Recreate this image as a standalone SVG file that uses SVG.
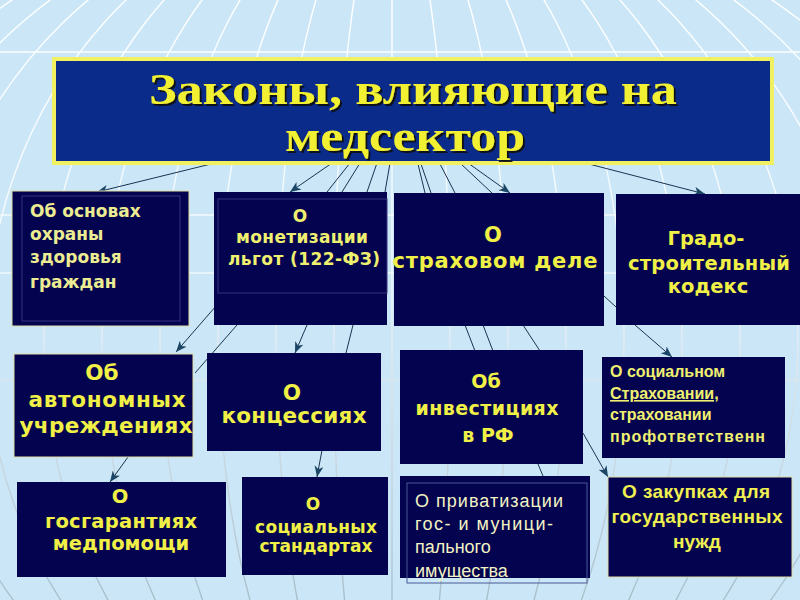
<svg xmlns="http://www.w3.org/2000/svg" width="800" height="600" viewBox="0 0 800 600">
<defs>
<linearGradient id="gridGrad" gradientUnits="userSpaceOnUse" x1="0" y1="0" x2="0" y2="600">
<stop offset="0" stop-color="#ffffff"/>
<stop offset="0.45" stop-color="#f2f8fc"/>
<stop offset="1" stop-color="#a9bfcc"/>
</linearGradient>
<marker id="arr" markerUnits="userSpaceOnUse" markerWidth="12" markerHeight="10" refX="11" refY="4.5" orient="auto">
<path d="M0,0 L11,4.5 L0,9 L3,4.5 z" fill="#1c4666"/>
</marker>
<filter id="shadow" x="-5%" y="-20%" width="110%" height="140%">
<feDropShadow dx="2" dy="2" stdDeviation="0.6" flood-color="#111111" flood-opacity="0.9"/>
</filter>
</defs>
<style>
.grid{fill:none;stroke:url(#gridGrad);stroke-width:1.4}
.box{fill:#03034f}
.inner{fill:none;stroke:#34347e;stroke-width:1}
.edge{stroke:#dedea6;stroke-width:1}
.conn line{stroke:#1a3352;stroke-width:1}
.t{font-family:"DejaVu Sans",Verdana,sans-serif;font-weight:bold;fill:#f0f046}
.ta{font-family:"Liberation Sans",Arial,sans-serif;font-weight:bold;fill:#f0f070}
.tk{font-family:"Liberation Sans",Arial,sans-serif;fill:#f2f2c4}
.title{font-family:"Liberation Serif","Times New Roman",serif;font-weight:bold;fill:#f2f032;font-size:44px}
</style>
<rect x="0" y="0" width="800" height="600" fill="#cbe7f7"/>
<g id="background-grid">
<line class="grid" x1="392" y1="0" x2="392" y2="600"/>
<ellipse class="grid" cx="392" cy="340" rx="58" ry="450"/>
<ellipse class="grid" cx="392" cy="340" rx="116" ry="450"/>
<ellipse class="grid" cx="392" cy="340" rx="174" ry="450"/>
<ellipse class="grid" cx="392" cy="340" rx="232" ry="450"/>
<ellipse class="grid" cx="392" cy="340" rx="290" ry="450"/>
<ellipse class="grid" cx="392" cy="340" rx="348" ry="450"/>
<ellipse class="grid" cx="392" cy="340" rx="406" ry="450"/>
<ellipse class="grid" cx="392" cy="340" rx="464" ry="450"/>
<ellipse class="grid" cx="392" cy="340" rx="522" ry="450"/>
<ellipse class="grid" cx="392" cy="340" rx="580" ry="450"/>
<ellipse class="grid" cx="392" cy="340" rx="638" ry="450"/>
<line class="grid" x1="0" y1="52" x2="800" y2="52"/>
<line class="grid" x1="0" y1="215" x2="800" y2="215"/>
<line class="grid" x1="0" y1="273" x2="800" y2="273"/>
<line class="grid" x1="0" y1="380" x2="800" y2="380"/>
</g>
<g id="connectors" class="conn">
<line x1="215" y1="163" x2="97" y2="192" marker-end="url(#arr)"/>
<line x1="332" y1="163" x2="290" y2="192" marker-end="url(#arr)"/>
<line x1="350" y1="163" x2="327" y2="192"/>
<line x1="360" y1="163" x2="342" y2="192"/>
<line x1="377" y1="163" x2="367" y2="192"/>
<line x1="390" y1="163" x2="385" y2="192"/>
<line x1="418" y1="164" x2="425" y2="193"/>
<line x1="421" y1="164" x2="431" y2="193"/>
<line x1="440" y1="164" x2="455" y2="193"/>
<line x1="460" y1="163" x2="492" y2="193"/>
<line x1="468" y1="163" x2="510" y2="193" marker-end="url(#arr)"/>
<line x1="585" y1="163" x2="705" y2="194" marker-end="url(#arr)"/>
<line x1="216" y1="306" x2="176" y2="352" marker-end="url(#arr)"/>
<line x1="237" y1="325" x2="195" y2="373"/>
<line x1="307" y1="325" x2="295" y2="353" marker-end="url(#arr)"/>
<line x1="353" y1="325" x2="346" y2="353"/>
<line x1="465" y1="325" x2="475" y2="351"/>
<line x1="483" y1="325" x2="493" y2="351"/>
<line x1="523" y1="325" x2="540" y2="351"/>
<line x1="604" y1="296" x2="616" y2="307"/>
<line x1="635" y1="325" x2="672" y2="357" marker-end="url(#arr)"/>
<line x1="128" y1="457" x2="110" y2="482" marker-end="url(#arr)"/>
<line x1="322" y1="450" x2="317" y2="477" marker-end="url(#arr)"/>
<line x1="538" y1="464" x2="543" y2="476"/>
<line x1="583" y1="433" x2="608" y2="477" marker-end="url(#arr)"/>
</g>
<g id="title">
<rect x="54" y="59" width="718" height="104" fill="#0b2b8b" stroke="#f0f060" stroke-width="4"/>
<text class="title" x="413" y="104" text-anchor="middle" textLength="528" lengthAdjust="spacingAndGlyphs" filter="url(#shadow)">Законы, влияющие на</text>
<text class="title" x="405" y="151" text-anchor="middle" textLength="240" lengthAdjust="spacingAndGlyphs" filter="url(#shadow)">медсектор</text>
</g>
<g id="node-osnovy">
<rect class="box edge" x="12" y="191" width="177" height="135"/>
<rect class="inner" x="22" y="196" width="158" height="125"/>
<text class="t" font-size="17" fill="#ecec92" style="fill:#ecec92" x="30"><tspan x="30" y="217">Об основах</tspan><tspan x="30" y="240">охраны</tspan><tspan x="30" y="263">здоровья</tspan><tspan x="30" y="288">граждан</tspan></text>
</g>
<g id="node-monetizaciya">
<rect class="box" x="214" y="192" width="173" height="133"/>
<rect class="inner" x="218" y="199" width="169" height="94"/>
<text class="t" font-size="17" text-anchor="middle" style="fill:#f0f070"><tspan x="300" y="222">О</tspan><tspan x="302" y="243" textLength="132">монетизации</tspan><tspan x="304" y="265" textLength="152">льгот (122-ФЗ)</tspan></text>
</g>
<g id="node-strahovoe">
<rect class="box" x="394" y="193" width="210" height="133"/>
<text class="t" font-size="21" text-anchor="middle"><tspan x="493" y="242">О</tspan><tspan x="495" y="268" textLength="205">страховом деле</tspan></text>
</g>
<g id="node-grado">
<rect class="box" x="616" y="194" width="184" height="131"/>
<text class="t" font-size="19.5" text-anchor="middle"><tspan x="706" y="245">Градо-</tspan><tspan x="709" y="270" textLength="162">строительный</tspan><tspan x="708" y="293">кодекс</tspan></text>
</g>
<g id="node-avtonomnye">
<rect class="box edge" x="14" y="354" width="179" height="103"/>
<text class="t" font-size="21.5" text-anchor="middle"><tspan x="102" y="380">Об</tspan><tspan x="107" y="407" textLength="157">автономных</tspan><tspan x="106" y="433" textLength="173">учреждениях</tspan></text>
</g>
<g id="node-koncessii">
<rect class="box" x="207" y="353" width="174" height="98"/>
<text class="t" font-size="21.5" text-anchor="middle"><tspan x="292" y="400">О</tspan><tspan x="294" y="423" textLength="145">концессиях</tspan></text>
</g>
<g id="node-investicii">
<rect class="box" x="400" y="350" width="183" height="114"/>
<text class="t" font-size="19" text-anchor="middle"><tspan x="486" y="388">Об</tspan><tspan x="487" y="415" textLength="143">инвестициях</tspan><tspan x="488" y="442">в РФ</tspan></text>
</g>
<g id="node-socstrah">
<rect class="box" x="602" y="357" width="183" height="101"/>
<text class="ta" font-size="16"><tspan x="610" y="377">О социальном</tspan><tspan x="610" y="399" text-decoration="underline">Страховании,</tspan><tspan x="610" y="420">страховании</tspan><tspan x="610" y="442" textLength="155">профответственн</tspan></text>
</g>
<g id="node-gosgarantii">
<rect class="box" x="17" y="482" width="209" height="95"/>
<text class="t" font-size="19.5" text-anchor="middle"><tspan x="120" y="503">О</tspan><tspan x="121" y="528" textLength="152">госгарантиях</tspan><tspan x="121" y="550">медпомощи</tspan></text>
</g>
<g id="node-socstandarty">
<rect class="box" x="242" y="477" width="146" height="98"/>
<text class="t" font-size="17" text-anchor="middle"><tspan x="313" y="510">О</tspan><tspan x="316" y="533" textLength="122">социальных</tspan><tspan x="316" y="552">стандартах</tspan></text>
</g>
<g id="node-privatizaciya">
<rect class="box" x="400" y="476" width="190" height="102"/>
<rect class="inner" x="407" y="483" width="180" height="100" style="stroke:#4a5894"/>
<text class="tk" font-size="18"><tspan x="415" y="507" textLength="148">О приватизации</tspan><tspan x="415" y="530" textLength="138">гос- и муници-</tspan><tspan x="415" y="553">пального</tspan><tspan x="415" y="577">имущества</tspan></text>
</g>
<g id="node-zakupki">
<rect class="box edge" x="608" y="477" width="184" height="100"/>
<text class="ta" font-size="19" text-anchor="middle" style="fill:#f0f050"><tspan x="696" y="498" textLength="148">О закупках для</tspan><tspan x="697" y="523" textLength="171">государственных</tspan><tspan x="697" y="548">нужд</tspan></text>
</g>
</svg>
